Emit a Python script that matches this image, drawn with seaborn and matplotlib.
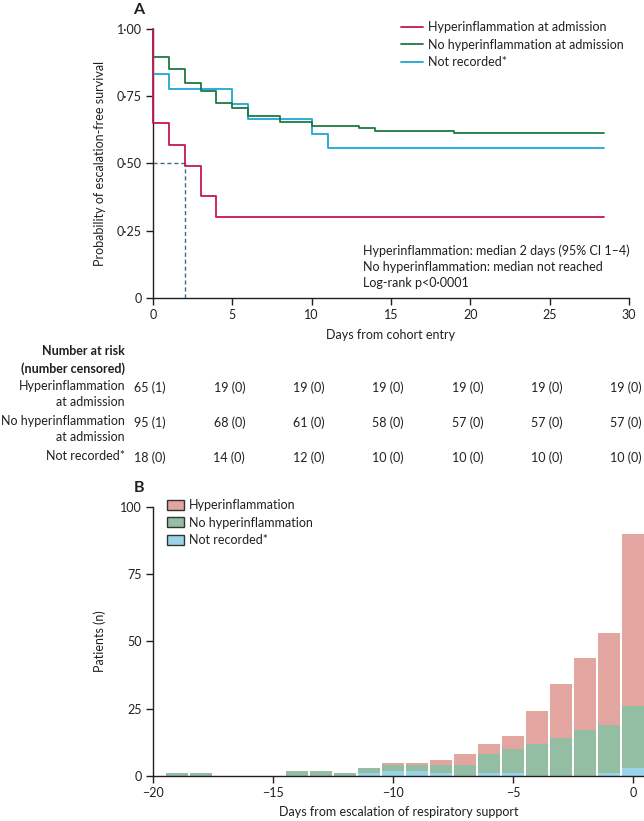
import pandas as pd
import matplotlib.pyplot as plt
import seaborn as sns
from matplotlib.ticker import FuncFormatter, MultipleLocator
from matplotlib.patches import Patch
from matplotlib.lines import Line2D
from matplotlib.transforms import blended_transform_factory, ScaledTranslation

# ---------------------------------------------------------
# Data
# ---------------------------------------------------------
km_groups = ["Hyperinflammation at admission",
             "No hyperinflammation at admission",
             "Not recorded*"]

days_hyper = [0, 0, 1, 2, 3, 4, 28.4]
surv_hyper = [1.0, 0.65, 0.569, 0.492, 0.379, 0.30, 0.30]

days_nohyper = [0, 0, 1, 2, 3, 4, 5, 6, 8, 10, 13, 14, 19, 28.4]
surv_nohyper = [1.0, 0.895, 0.853, 0.800, 0.771, 0.726, 0.705, 0.676,
                0.653, 0.641, 0.632, 0.621, 0.612, 0.612]

days_notrec = [0, 0, 1, 5, 6, 10, 11, 28.4]
surv_notrec = [1.0, 0.833, 0.778, 0.722, 0.667, 0.611, 0.556, 0.556]

median_hyper = 2

risk_days = [0, 5, 10, 15, 20, 25, 30]
risk_hyper = ["65 (1)", "19 (0)", "19 (0)", "19 (0)", "19 (0)", "19 (0)", "19 (0)"]
risk_nohyper = ["95 (1)", "68 (0)", "61 (0)", "58 (0)", "57 (0)", "57 (0)", "57 (0)"]
risk_notrec = ["18 (0)", "14 (0)", "12 (0)", "10 (0)", "10 (0)", "10 (0)", "10 (0)"]

bar_groups = ["Hyperinflammation", "No hyperinflammation", "Not recorded*"]
bar_days = list(range(-19, 1))
n_hyper = [0, 0, 0, 0, 0, 0, 0, 0, 0, 1, 1, 2, 4, 4, 5, 12, 20, 27, 34, 64]
n_nohyper = [1, 1, 0, 0, 0, 2, 2, 1, 2, 2, 2, 3, 4, 7, 9, 12, 14, 17, 18, 23]
n_notrec = [0, 0, 0, 0, 0, 0, 0, 0, 1, 2, 2, 1, 0, 1, 1, 0, 0, 0, 1, 3]

line_colors = ["#c8174c", "#1b7a3f", "#1ba7d6"]
bar_colors = ["#e2a59f", "#93bea4", "#97d4e8"]
text_color = "#231f20"

W, H = 644, 821
FS = 9


def lancet(v, pos):
    return "0" if v == 0 else f"{v:.2f}".replace(".", "\u00b7")


def generate():
    sns.set_theme(style="ticks")
    plt.rcParams["font.family"] = ["Lato", "DejaVu Sans"]
    plt.rcParams.update({"font.size": FS, "axes.labelsize": FS,
                         "xtick.labelsize": FS, "ytick.labelsize": FS,
                         "legend.fontsize": FS, "text.color": text_color,
                         "axes.labelcolor": text_color,
                         "xtick.color": text_color, "ytick.color": text_color,
                         "axes.edgecolor": text_color})

    fig = plt.figure(figsize=(W / 100, H / 100), dpi=100)

    # ---------------------------------------------------------
    # Panel A: Kaplan-Meier
    # ---------------------------------------------------------
    ax = fig.add_axes([153 / W, 1 - 298 / H, 476 / W, 269 / H])
    rows = []
    for g, d, s in zip(km_groups, [days_hyper, days_nohyper, days_notrec],
                       [surv_hyper, surv_nohyper, surv_notrec]):
        for x, y in zip(d, s):
            rows.append({"group": g, "day": x, "surv": y})
    df_km = pd.DataFrame(rows)
    pal = dict(zip(km_groups, line_colors))
    sns.lineplot(data=df_km, x="day", y="surv", hue="group",
                 hue_order=km_groups[::-1], palette=pal, estimator=None,
                 sort=False, drawstyle="steps-post", linewidth=1.3,
                 legend=False, ax=ax, clip_on=False, zorder=3)

    ax.plot([0, median_hyper], [0.5, 0.5], ls=(0, (3, 2)), color="#3b6c8a", lw=1)
    ax.plot([median_hyper, median_hyper], [0, 0.5], ls=(0, (3, 2)), color="#3b6c8a", lw=1)

    ax.set_xlim(0, 30)
    ax.set_ylim(0, 1)
    ax.xaxis.set_major_locator(MultipleLocator(5))
    ax.yaxis.set_major_locator(MultipleLocator(0.25))
    ax.yaxis.set_major_formatter(FuncFormatter(lancet))
    ax.set_xlabel("Days from cohort entry", labelpad=6)
    ax.set_ylabel("Probability of escalation-free survival", labelpad=8)
    sns.despine(ax=ax)
    ax.tick_params(length=5, width=1, pad=3)
    for sp in ax.spines.values():
        sp.set_linewidth(1)

    handles = [Line2D([], [], color=c, lw=1.3) for c in line_colors]
    ax.legend(handles, km_groups, loc="upper left", bbox_to_anchor=(0.521, 1.03),
              frameon=False, handlelength=1.75, handletextpad=0.45,
              labelspacing=0.45, borderpad=0, borderaxespad=0)

    ax.text(0.442, 0.2,
            "Hyperinflammation: median 2 days (95% CI 1\u20134)\n"
            "No hyperinflammation: median not reached\n"
            "Log-rank p<0\u00b70001",
            transform=ax.transAxes, va="top", ha="left", linespacing=1.4)

    fig.text(133 / W, 1 - 10 / H, "A", fontsize=11.5, fontweight="bold", va="center")

    # Number at risk table
    tr = blended_transform_factory(ax.transData, fig.transFigure) + \
        ScaledTranslation(-3 / 100, 0, fig.dpi_scale_trans)
    fig.text(125 / W, 1 - 351 / H, "Number at risk", ha="right", va="center",
             fontweight="bold")
    fig.text(125 / W, 1 - 369 / H, "(number censored)", ha="right", va="center",
             fontweight="bold")
    table_rows = [("Hyperinflammation\nat admission", risk_hyper, 388),
                  ("No hyperinflammation\nat admission", risk_nohyper, 423),
                  ("Not recorded*", risk_notrec, 458)]
    for lab, vals, py in table_rows:
        fig.text(125 / W, 1 - (py - 8) / H, lab, ha="right", va="top",
                 linespacing=1.35)
        for d, v in zip(risk_days, vals):
            ax.text(d, 1 - py / H, v, transform=tr, ha="center", va="center")

    # ---------------------------------------------------------
    # Panel B: stacked histogram
    # ---------------------------------------------------------
    bx = fig.add_axes([153 / W, 1 - 776 / H, 491 / W, 269.3 / H])
    df_bar = pd.DataFrame({
        "day": bar_days * 3,
        "group": [bar_groups[0]] * len(bar_days) + [bar_groups[1]] * len(bar_days)
                 + [bar_groups[2]] * len(bar_days),
        "n": n_hyper + n_nohyper + n_notrec,
    })
    sns.histplot(data=df_bar, x="day", weights="n", hue="group",
                 hue_order=bar_groups, palette=dict(zip(bar_groups, bar_colors)),
                 multiple="stack", discrete=True, shrink=0.9, alpha=1,
                 linewidth=0, legend=False, ax=bx)
    bx.set_xlim(-20, 0.46)
    bx.set_ylim(0, 100)
    bx.xaxis.set_major_locator(MultipleLocator(5))
    bx.yaxis.set_major_locator(MultipleLocator(25))
    bx.set_xlabel("Days from escalation of respiratory support", labelpad=5)
    bx.set_ylabel("Patients (n)", labelpad=10)
    sns.despine(ax=bx)
    bx.tick_params(length=5, width=1, pad=3)
    for sp in bx.spines.values():
        sp.set_linewidth(1)

    phandles = [Patch(facecolor=c, edgecolor="#333333", linewidth=1) for c in bar_colors]
    fig.legend(phandles, bar_groups, loc="upper left",
               bbox_to_anchor=(167 / W, 1 - 499 / H), bbox_transform=fig.transFigure,
               frameon=False, handlelength=1.35, handleheight=0.85, handletextpad=0.4,
               labelspacing=0.45, borderpad=0, borderaxespad=0)

    fig.text(134 / W, 1 - 488 / H, "B", fontsize=11.5, fontweight="bold", va="center")

    fig.savefig("out.png", dpi=100)
    plt.close(fig)


if __name__ == "__main__":
    generate()
